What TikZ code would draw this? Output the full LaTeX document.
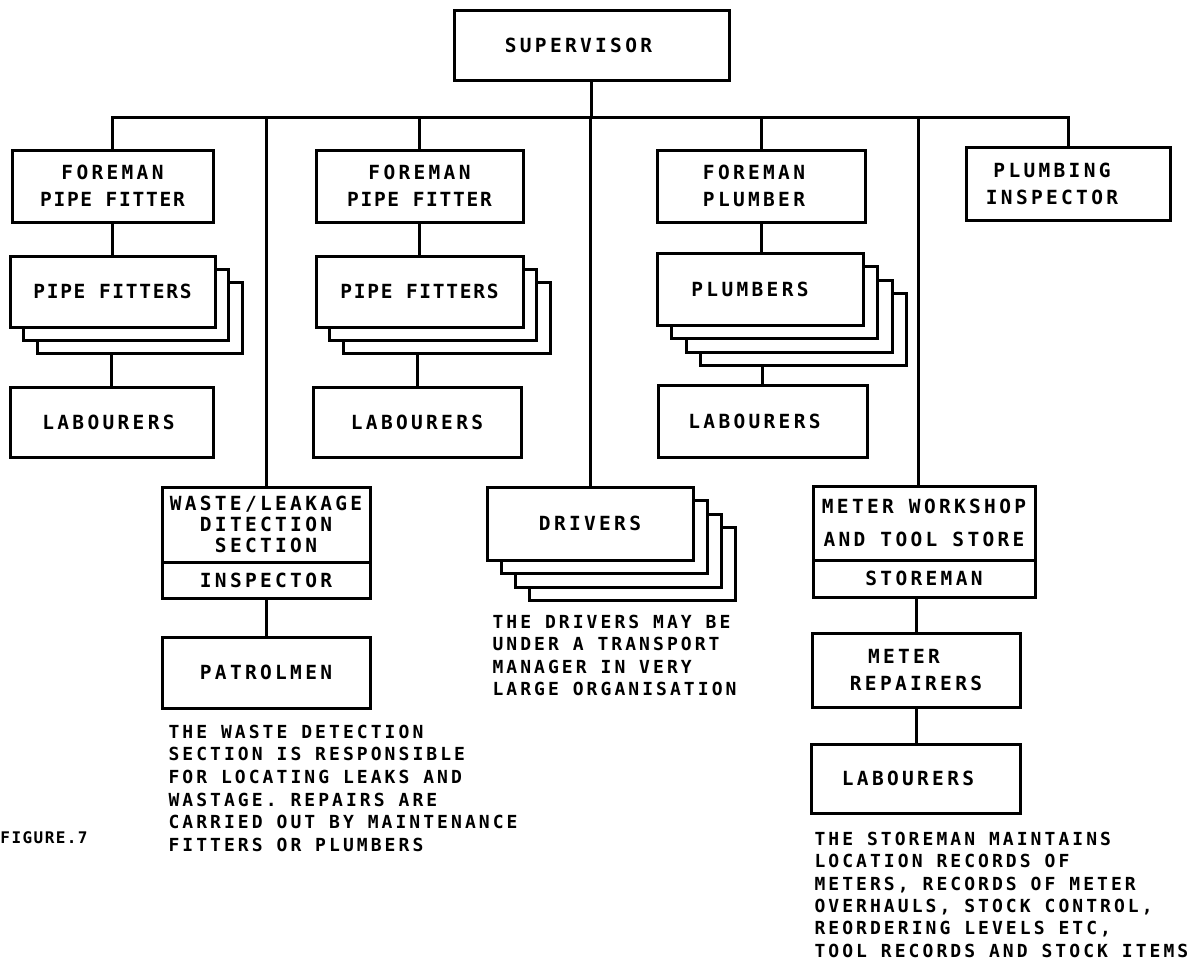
\documentclass[tikz,border=0pt]{standalone}
\usepackage{fontspec}
\newfontfamily\chartmono{DejaVu Sans Mono}[LetterSpace=17]
\newfontfamily\chartmonotight{DejaVu Sans Mono}[LetterSpace=9]
\newcommand\chartlabelfont{\chartmono\bfseries\fontsize{19.5}{27}\selectfont}
\newcommand\chartnotefont{\chartmono\bfseries\fontsize{18}{22.4}\selectfont}
\begin{document}
\begin{tikzpicture}[x=1pt,y=-1pt,
  line width=3pt, line join=miter,
  box/.style={draw, rectangle, fill=white, inner sep=0pt, align=center,
              font=\chartlabelfont},
  note/.style={anchor=north west, inner sep=0pt, align=left, font=\chartnotefont}]
\fill[white] (0,0) rectangle (1202,964);
\useasboundingbox (0,0) rectangle (1202,964);

% top of the chart
\node[box, minimum width=275, minimum height=70] (sup) at (591.5,45) {SUPERVISOR\hspace*{26pt}};

% foremen and inspector
\node[box, minimum width=201, minimum height=72] (fm1) at (112.5,186) {FOREMAN\\{\chartmonotight PIPE FITTER}};
\node[box, minimum width=207, minimum height=72] (fm2) at (419.5,186) {FOREMAN\\{\chartmonotight PIPE FITTER}};
\node[box, minimum width=208, minimum height=72] (fm3) at (761,186) {FOREMAN\hspace*{14pt}\\PLUMBER\hspace*{14pt}};
\node[box, minimum width=204, minimum height=73] (pi) at (1068,183.5) {PLUMBING\hspace*{32pt}\\INSPECTOR\hspace*{32pt}};

% stacked crews (back sheets first)
\node[box, minimum width=205, minimum height=71] (pf1c) at (139.5,317.5) {};
\node[box, minimum width=205, minimum height=71] (pf1b) at (126,304.5) {};
\node[box, minimum width=205, minimum height=71] (pf1) at (112.5,291.5) {\chartmonotight PIPE FITTERS};

\node[box, minimum width=207, minimum height=71] (pf2c) at (446.5,317.5) {};
\node[box, minimum width=207, minimum height=71] (pf2b) at (433,304.5) {};
\node[box, minimum width=207, minimum height=71] (pf2) at (419.5,291.5) {\chartmonotight PIPE FITTERS};

\node[box, minimum width=206, minimum height=72] (pld) at (803.5,329.5) {};
\node[box, minimum width=206, minimum height=72] (plc) at (789,316) {};
\node[box, minimum width=206, minimum height=72] (plb) at (774.5,302.5) {};
\node[box, minimum width=206, minimum height=72] (pl) at (760,289) {PLUMBERS\hspace*{20pt}};

% labourers under each foreman
\node[box, minimum width=203, minimum height=70] (lab1) at (111.5,422) {LABOURERS\hspace*{6pt}};
\node[box, minimum width=208, minimum height=70] (lab2) at (417,422) {LABOURERS};
\node[box, minimum width=209, minimum height=72] (lab3) at (762.5,421) {LABOURERS\hspace*{16pt}};

% waste / leakage detection section
\node[box, minimum width=208, minimum height=75,
      font=\chartmono\bfseries\fontsize{19.5}{21}\selectfont] (wtop) at (266,524.5) {WASTE/LEAKAGE\\DITECTION\\SECTION};
\node[box, minimum width=208, minimum height=36] (wbot) at (266,580) {INSPECTOR};
\node[box, minimum width=208, minimum height=71] (pat) at (266,672.5) {PATROLMEN};

% drivers
\node[box, minimum width=206, minimum height=73] (drd) at (632,564) {};
\node[box, minimum width=206, minimum height=73] (drc) at (618,550.5) {};
\node[box, minimum width=206, minimum height=73] (drb) at (604,537) {};
\node[box, minimum width=206, minimum height=73] (dr) at (590,523.5) {DRIVERS};

% meter workshop
\node[box, minimum width=222, minimum height=74,
      font=\chartmono\bfseries\fontsize{19.5}{33}\selectfont] (mtop) at (924,523) {METER WORKSHOP\\AND TOOL STORE};
\node[box, minimum width=222, minimum height=37] (mbot) at (924,578.5) {STOREMAN};
\node[box, minimum width=208, minimum height=74] (rep) at (916,670) {METER\hspace*{24pt}\\REPAIRERS};
\node[box, minimum width=209, minimum height=69] (lab4) at (916,778.5) {LABOURERS\hspace*{16pt}};

% bus and drops
\coordinate (bus) at (113,117);
\coordinate (mdrop) at (918,117);
\draw (sup.south) -- (sup.south |- bus);
\draw (fm1.north) -- (fm1.north |- bus) -- (pi.north |- bus) -- (pi.north);
\draw (wtop.north) -- (wtop.north |- bus);
\draw (fm2.north) -- (fm2.north |- bus);
\draw (dr.north) -- (dr.north |- bus);
\draw (fm3.north) -- (fm3.north |- bus);
\draw (mtop.north -| mdrop) -- (mdrop);

% links within the columns
\draw (fm1.south) -- (fm1.south |- pf1.north);
\draw (lab1.north) -- (lab1.north |- pf1c.south);
\draw (fm2.south) -- (fm2.south |- pf2.north);
\draw (lab2.north) -- (lab2.north |- pf2c.south);
\draw (fm3.south) -- (fm3.south |- pl.north);
\draw (lab3.north) -- (lab3.north |- pld.south);
\draw (wbot.south) -- (pat.north);
\draw (rep.north) -- (rep.north |- mbot.south);
\draw (rep.south) -- (lab4.north);

% notes
\node[note] (ndr) at (491,613.5) {THE DRIVERS MAY BE\\UNDER A TRANSPORT\\MANAGER IN VERY\\LARGE ORGANISATION};
\node[note, font=\chartmono\bfseries\fontsize{18}{22.6}\selectfont] (nw) at (167,723.5) {THE WASTE DETECTION\\SECTION IS RESPONSIBLE\\FOR LOCATING LEAKS AND\\WASTAGE. REPAIRS ARE\\CARRIED OUT BY MAINTENANCE\\FITTERS OR PLUMBERS};
\node[note] (nm) at (813,830.5) {THE STOREMAN MAINTAINS\\LOCATION RECORDS OF\\METERS, RECORDS OF METER\\OVERHAULS, STOCK CONTROL,\\REORDERING LEVELS ETC,\\TOOL RECORDS AND STOCK ITEMS};
\node[anchor=west, inner sep=0pt, font=\chartmonotight\bfseries\fontsize{16}{18}\selectfont] (fig) at (-1,838) {FIGURE.7};
\end{tikzpicture}
\end{document}
